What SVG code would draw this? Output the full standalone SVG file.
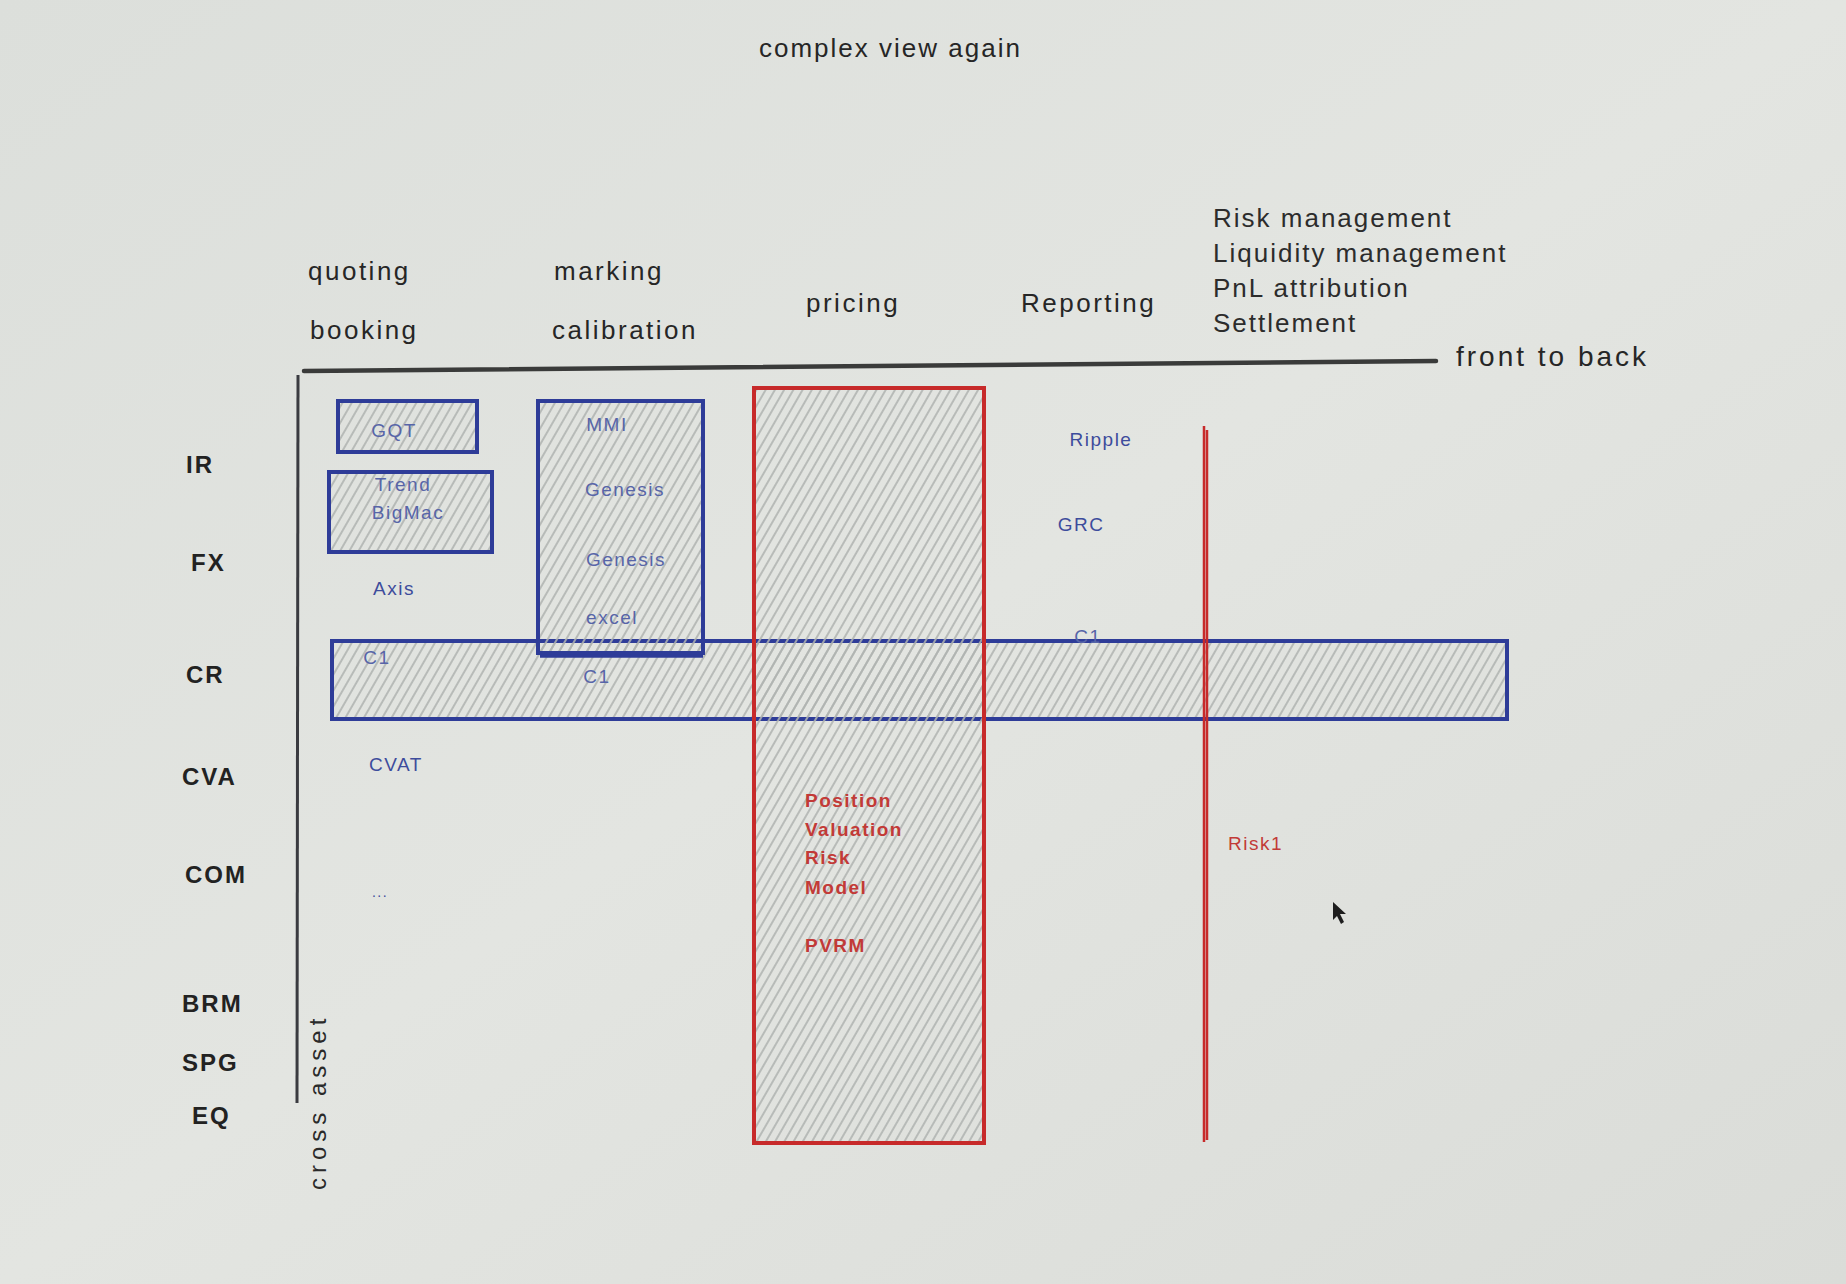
<svg xmlns="http://www.w3.org/2000/svg" width="1846" height="1284" viewBox="0 0 1846 1284">
<defs>
<linearGradient id="bg" x1="0" y1="0" x2="1" y2="1">
<stop offset="0" stop-color="#dcdfdb"/>
<stop offset="0.5" stop-color="#e3e5e1"/>
<stop offset="1" stop-color="#dadcd8"/>
</linearGradient>
<pattern id="hatch" width="8" height="8" patternUnits="userSpaceOnUse" patternTransform="rotate(30)">
<line x1="2" y1="0" x2="2" y2="8" stroke="#b0b4b1" stroke-width="1.7"/>
</pattern>
<style>
text{font-family:"Liberation Sans","DejaVu Sans",sans-serif}
.title{font-size:26px;fill:#262626;letter-spacing:2px}
.hdr{font-size:26px;fill:#262626;letter-spacing:2.5px}
.hdr2{font-size:26px;fill:#2c2c2c;letter-spacing:2px}
.row{font-size:24px;fill:#222;letter-spacing:2px;font-weight:bold}
.xa{font-size:24px;fill:#2a2a2a;letter-spacing:5px}
.lbl{font-size:19px;fill:#5765a8;letter-spacing:1.5px;text-anchor:middle}
.lbl2{font-size:19px;fill:#3d4c9c;letter-spacing:1.5px;text-anchor:middle}
.red{font-size:19px;fill:#c23a37;letter-spacing:1.5px;font-weight:bold}
.bbox{fill:url(#hatch);stroke:#2e3c98;stroke-width:4}
.rbox{fill:url(#hatch);stroke:#c72a2a;stroke-width:4}
</style>
</defs>
<rect width="1846" height="1284" fill="url(#bg)"/>

<g id="title"><text class="title" x="759" y="57">complex view again</text></g>

<g id="headers">
<text class="hdr" x="308" y="280">quoting</text>
<text class="hdr" x="310" y="339">booking</text>
<text class="hdr" x="554" y="280">marking</text>
<text class="hdr" x="552" y="339">calibration</text>
<text class="hdr" x="806" y="312">pricing</text>
<text class="hdr" x="1021" y="312">Reporting</text>
<text class="hdr2" x="1213" y="227">Risk management</text>
<text class="hdr2" x="1213" y="262">Liquidity management</text>
<text class="hdr2" x="1213" y="297">PnL attribution</text>
<text class="hdr2" x="1213" y="332">Settlement</text>
<text class="hdr" x="1456" y="366" style="font-size:28px;letter-spacing:3px">front to back</text>
</g>

<g id="rows">
<text class="row" x="186" y="473">IR</text>
<text class="row" x="191" y="571">FX</text>
<text class="row" x="186" y="683">CR</text>
<text class="row" x="182" y="785">CVA</text>
<text class="row" x="185" y="883">COM</text>
<text class="row" x="182" y="1012">BRM</text>
<text class="row" x="182" y="1071">SPG</text>
<text class="row" x="192" y="1124">EQ</text>
<text class="xa" transform="translate(326,1190) rotate(-90)">cross asset</text>
</g>

<g id="connectors">
<path d="M304 371 L1436 361" stroke="#3a3b3a" stroke-width="4.5" fill="none" stroke-linecap="round"/>
<path d="M298 375 L297 1103" stroke="#3a3b40" stroke-width="3" fill="none"/>
</g>

<g id="node-cr">
<rect class="bbox" x="332" y="641" width="1175" height="78"/>
<text class="lbl" x="377" y="664">C1</text>
<text class="lbl" x="597" y="683">C1</text>
<text class="lbl" x="1088" y="643">C1</text>
</g>

<g id="node-pricing">
<rect class="rbox" x="754" y="388" width="230" height="755"/>
<text class="red" x="805" y="807">Position</text>
<text class="red" x="805" y="836">Valuation</text>
<text class="red" x="805" y="864">Risk</text>
<text class="red" x="805" y="894">Model</text>
<text class="red" x="805" y="952">PVRM</text>
</g>

<g id="node-redline">
<path d="M1204 426 L1204 1142 M1207 430 L1207 1140" stroke="#c72a2a" stroke-width="2.5" fill="none"/>
</g>

<g id="node-gqt">
<rect class="bbox" x="338" y="401" width="139" height="51"/>
<text class="lbl" x="394" y="437">GQT</text>
</g>

<g id="node-trend">
<rect class="bbox" x="329" y="472" width="163" height="80"/>
<text class="lbl" x="403" y="491">Trend</text>
<text class="lbl" x="408" y="519">BigMac</text>
</g>

<g id="node-mmi">
<rect class="bbox" x="538" y="401" width="165" height="252"/>
<path d="M540 656 L703 656" stroke="#2e3c98" stroke-width="3.5"/>
<text class="lbl" x="607" y="431">MMI</text>
<text class="lbl" x="625" y="496">Genesis</text>
<text class="lbl" x="626" y="566">Genesis</text>
<text class="lbl" x="612" y="624">excel</text>
</g>

<g id="labels">
<text class="lbl2" x="394" y="595">Axis</text>
<text class="lbl2" x="396" y="771">CVAT</text>
<text class="lbl2" x="380" y="897" style="font-size:14px">...</text>
<text class="lbl2" x="1101" y="446">Ripple</text>
<text class="lbl2" x="1081" y="531">GRC</text>
<text class="red" x="1228" y="850" style="font-weight:normal">Risk1</text>
</g>

<path d="M1333 902 L1333 920 L1337 916 L1341 924 L1344 922 L1340 914 L1346 914 Z" fill="#1e1e1e"/>
</svg>
